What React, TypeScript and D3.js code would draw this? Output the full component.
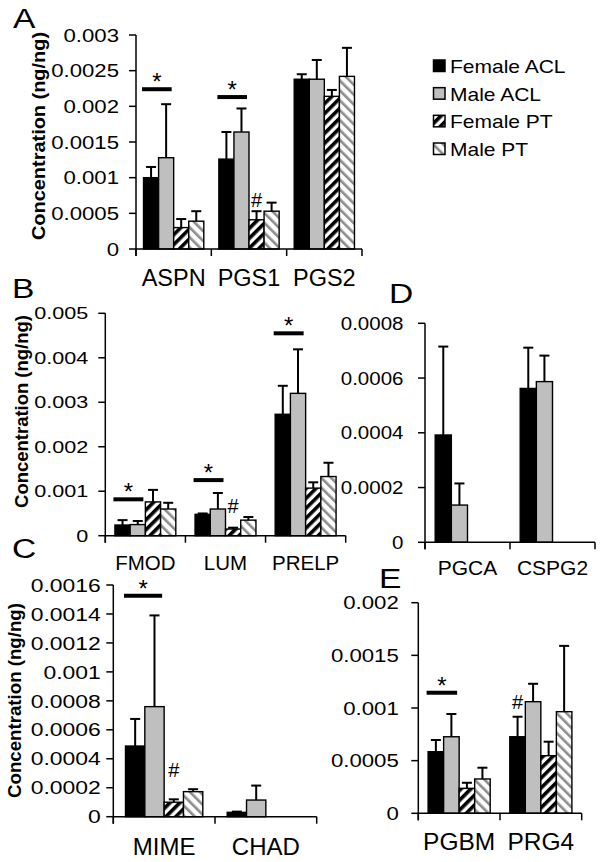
import React from "react";
import * as d3 from "d3";

const SERIES = ["Female ACL", "Male ACL", "Female PT", "Male PT"];

// Panel A
const CATS_A = ["ASPN", "PGS1", "PGS2"];
const MEAN_A = [
  [0.001, 0.00126, 0.00238],
  [0.00128, 0.00164, 0.00238],
  [0.0003, 0.00041, 0.00214],
  [0.00039, 0.00053, 0.00242],
];
const SD_A = [
  [0.00015, 0.00038, 0.00007],
  [0.00075, 0.00033, 0.00027],
  [0.00012, 0.00012, 0.00009],
  [0.00014, 0.00012, 0.0004],
];
const TICKS_A = [0, 0.0005, 0.001, 0.0015, 0.002, 0.0025, 0.003];

// Panel B
const CATS_B = ["FMOD", "LUM", "PRELP"];
const MEAN_B = [
  [0.00024, 0.00048, 0.00273],
  [0.00025, 0.0006, 0.0032],
  [0.00076, 0.00015, 0.00107],
  [0.0006, 0.00035, 0.00133],
];
const SD_B = [
  [0.00011, 0.00002, 0.00064],
  [0.00008, 0.00036, 0.00099],
  [0.00027, 0.00003, 0.00013],
  [0.00014, 0.00007, 0.00031],
];
const TICKS_B = [0, 0.001, 0.002, 0.003, 0.004, 0.005];

// Panel C
const CATS_C = ["MIME", "CHAD"];
const MEAN_C = [
  [0.000488, 0.00003],
  [0.00076, 0.000115],
  [0.0001, null],
  [0.000173, null],
];
const SD_C = [
  [0.000187, 0.000005],
  [0.00063, 0.0001],
  [0.00002, null],
  [0.000017, null],
];
const TICKS_C = [0, 0.0002, 0.0004, 0.0006, 0.0008, 0.001, 0.0012, 0.0014, 0.0016];

// Panel D
const CATS_D = ["PGCA", "CSPG2"];
const MEAN_D = [
  [0.000392, 0.000562],
  [0.000136, 0.000587],
  [null, null],
  [null, null],
];
const SD_D = [
  [0.000323, 0.000149],
  [0.000079, 0.000095],
  [null, null],
  [null, null],
];
const TICKS_D = [0, 0.0002, 0.0004, 0.0006, 0.0008];

// Panel E
const CATS_E = ["PGBM", "PRG4"];
const MEAN_E = [
  [0.000585, 0.000727],
  [0.000727, 0.00106],
  [0.000237, 0.000547],
  [0.000326, 0.000965],
];
const SD_E = [
  [0.000111, 0.00019],
  [0.000216, 0.00017],
  [0.000053, 0.000133],
  [0.000107, 0.000625],
];
const TICKS_E = [0, 0.0005, 0.001, 0.0015, 0.002];

// Significance annotations (category index, level in data units)
const STARS_A = [{ cat: 0, level: 0.00224 }, { cat: 1, level: 0.00213 }];
const HASH_A = [{ cat: 1, series: 2, level: 0.000590 }];
const STARS_B = [{ cat: 0, level: 0.000818 }, { cat: 1, level: 0.00125 }, { cat: 2, level: 0.00455 }];
const HASH_B = [{ cat: 1, series: 2, level: 0.0005 }];
const STARS_C = [{ cat: 0, level: 0.001526 }];
const HASH_C = [{ cat: 0, series: 2, level: 0.000275 }];
const STARS_D: { cat: number; level: number }[] = [];
const HASH_D: { cat: number; series: number; level: number }[] = [];
const STARS_E = [{ cat: 0, level: 0.001145 }];
const HASH_E = [{ cat: 1, series: 0, level: 0.000995 }];

const FONT = "'Liberation Sans', Arial, Helvetica, sans-serif";
const FILLS = ["#000000", "#bfbfbf", "url(#hatchF)", "url(#hatchM)"];

type PanelProps = {
  cats: string[];
  mean: (number | null)[][];
  sd: (number | null)[][];
  ticks: number[];
  stars: { cat: number; level: number }[];
  hashes: { cat: number; series: number; level: number }[];
  x0: number;
  x1: number;
  yTop: number;
  yBot: number;
  barFrac: number;
  tickFont: number;
  tickSx: number;
  tickGap: number;
  catFont: number;
  catY: number;
  title?: { x: number; y: number; size: number; sx: number };
  letter: { t: string; x: number; y: number };
};

function Panel(p: PanelProps) {
  const yMax = p.ticks[p.ticks.length - 1];
  const y = d3.scaleLinear().domain([0, yMax]).range([p.yBot, p.yTop]);
  const x = d3.scaleBand<string>().domain(p.cats).range([p.x0, p.x1]).padding(0);
  const bw = x.bandwidth();
  const off = ((1 - 4 * p.barFrac) / 2) * bw;
  const xs = d3
    .scaleBand<number>()
    .domain([0, 1, 2, 3])
    .range([off, bw - off])
    .padding(0);
  const w = xs.bandwidth();
  const boundaries = p.cats.map((c) => x(c)!).concat([p.x1]);

  return (
    <g fontFamily={FONT}>
      <g transform={`translate(${p.letter.x},${p.letter.y}) scale(1.2,1)`}>
        <text fontSize={28}>{p.letter.t}</text>
      </g>
      {p.title && (
        <g transform={`translate(${p.title.x},${p.title.y}) rotate(-90) scale(${p.title.sx},1)`}>
          <text fontSize={p.title.size} fontWeight="bold" textAnchor="middle">
            Concentration (ng/ng)
          </text>
        </g>
      )}
      {p.ticks.map((t) => (
        <g key={t}>
          <line x1={p.x0 - 7} x2={p.x0} y1={y(t)} y2={y(t)} stroke="#000" strokeWidth={1.5} />
          <g transform={`translate(${p.x0 - p.tickGap},${y(t)}) scale(${p.tickSx},1)`}>
            <text fontSize={p.tickFont} textAnchor="end" dy="0.36em">
              {String(t)}
            </text>
          </g>
        </g>
      ))}
      {p.cats.map((c, ci) =>
        SERIES.map((s, si) => {
          const v = p.mean[si][ci];
          if (v == null) return null;
          const bx = x(c)! + xs(si)!;
          return (
            <rect
              key={c + s}
              x={bx}
              y={y(v)}
              width={w}
              height={p.yBot - y(v)}
              fill={FILLS[si]}
              stroke="#000"
              strokeWidth={1.4}
            />
          );
        })
      )}
      {p.cats.map((c, ci) =>
        SERIES.map((s, si) => {
          const v = p.mean[si][ci];
          const e = p.sd[si][ci];
          if (v == null || e == null) return null;
          const cx = x(c)! + xs(si)! + w / 2;
          return (
            <g key={"e" + c + s} stroke="#000" strokeWidth={2}>
              <line x1={cx} x2={cx} y1={y(v)} y2={y(v + e)} />
              <line x1={cx - 5} x2={cx + 5} y1={y(v + e)} y2={y(v + e)} />
            </g>
          );
        })
      )}
      <line x1={p.x0} x2={p.x0} y1={p.yTop} y2={p.yBot + 7} stroke="#000" strokeWidth={1.5} />
      <line x1={p.x0} x2={p.x1} y1={p.yBot} y2={p.yBot} stroke="#000" strokeWidth={1.5} />
      {boundaries.map((bx, i) => (
        <line key={i} x1={bx} x2={bx} y1={p.yBot} y2={p.yBot + 7} stroke="#000" strokeWidth={1.5} />
      ))}
      {p.cats.map((c) => (
        <text key={"l" + c} x={x(c)! + bw / 2} y={p.catY} fontSize={p.catFont} textAnchor="middle">
          {c}
        </text>
      ))}
      {p.stars.map((s, i) => {
        const c = p.cats[s.cat];
        const xa = x(c)! + xs(0)! - 1.5;
        const xb = x(c)! + xs(1)! + w - 2;
        const yy = y(s.level);
        return (
          <g key={"s" + i}>
            <line x1={xa} x2={xb} y1={yy} y2={yy} stroke="#000" strokeWidth={4} />
            <text x={(xa + xb) / 2} y={yy + 1} fontSize={24} textAnchor="middle">
              *
            </text>
          </g>
        );
      })}
      {p.hashes.map((h, i) => {
        const c = p.cats[h.cat];
        const cx = x(c)! + xs(h.series)! + w / 2;
        return (
          <text key={"h" + i} x={cx} y={y(h.level)} fontSize={20} textAnchor="middle">
            #
          </text>
        );
      })}
    </g>
  );
}

function Legend() {
  const rows = d3.scaleLinear().domain([0, 3]).range([60, 143]);
  return (
    <g fontFamily={FONT}>
      {SERIES.map((s, i) => (
        <g key={s}>
          <rect x={433.5} y={rows(i)} width={11.5} height={11.5} fill={FILLS[i]} stroke="#000" strokeWidth={1.5} />
          <g transform={`translate(450,${rows(i) + 13}) scale(1.2,1)`}>
            <text fontSize={17.5}>{s}</text>
          </g>
        </g>
      ))}
    </g>
  );
}

export default function App() {
  return (
    <svg
      width={602}
      height={862}
      style={{ position: "absolute", left: 0, top: 0, background: "#fff" }}
    >
      <defs>
        <pattern id="hatchF" patternUnits="userSpaceOnUse" width={7} height={7} patternTransform="rotate(45)">
          <rect width={7} height={7} fill="#fff" />
          <rect width={3.6} height={7} fill="#000" />
        </pattern>
        <pattern id="hatchM" patternUnits="userSpaceOnUse" width={7} height={7} patternTransform="rotate(-45)">
          <rect width={7} height={7} fill="#fff" />
          <rect width={2.6} height={7} fill="#8c8c8c" />
        </pattern>
      </defs>
      <rect width={602} height={862} fill="#fff" />
      <Panel
        cats={CATS_A}
        mean={MEAN_A}
        sd={SD_A}
        ticks={TICKS_A}
        stars={STARS_A}
        hashes={HASH_A}
        x0={136}
        x1={362}
        yTop={35}
        yBot={249}
        barFrac={0.2}
        tickFont={18.5}
        tickSx={1.2}
        tickGap={17}
        catFont={23.5}
        catY={286}
        title={{ x: 45, y: 136, size: 17.5, sx: 1.14 }}
        letter={{ t: "A", x: 13, y: 28 }}
      />
      <Panel
        cats={CATS_B}
        mean={MEAN_B}
        sd={SD_B}
        ticks={TICKS_B}
        stars={STARS_B}
        hashes={HASH_B}
        x0={105.3}
        x1={345.7}
        yTop={313.3}
        yBot={535.7}
        barFrac={0.19}
        tickFont={17}
        tickSx={1.27}
        tickGap={17}
        catFont={20.5}
        catY={570}
        title={{ x: 28.3, y: 411.5, size: 17.5, sx: 1.056 }}
        letter={{ t: "B", x: 12, y: 298 }}
      />
      <Panel
        cats={CATS_C}
        mean={MEAN_C}
        sd={SD_C}
        ticks={TICKS_C}
        stars={STARS_C}
        hashes={HASH_C}
        x0={113.3}
        x1={316.7}
        yTop={585}
        yBot={816.7}
        barFrac={0.19}
        tickFont={18.5}
        tickSx={1.24}
        tickGap={12.5}
        catFont={24}
        catY={855}
        title={{ x: 20.7, y: 700.5, size: 17.5, sx: 1.067 }}
        letter={{ t: "C", x: 12, y: 558 }}
      />
      <Panel
        cats={CATS_D}
        mean={MEAN_D}
        sd={SD_D}
        ticks={TICKS_D}
        stars={STARS_D}
        hashes={HASH_D}
        x0={425}
        x1={595}
        yTop={323.3}
        yBot={542.3}
        barFrac={0.19}
        tickFont={18}
        tickSx={1.14}
        tickGap={21.5}
        catFont={21}
        catY={575}
        letter={{ t: "D", x: 389, y: 303 }}
      />
      <Panel
        cats={CATS_E}
        mean={MEAN_E}
        sd={SD_E}
        ticks={TICKS_E}
        stars={STARS_E}
        hashes={HASH_E}
        x0={418.3}
        x1={581.7}
        yTop={602.7}
        yBot={813.3}
        barFrac={0.19}
        tickFont={18.5}
        tickSx={1.2}
        tickGap={19.5}
        catFont={24.5}
        catY={850}
        letter={{ t: "E", x: 379, y: 588 }}
      />
      <Legend />
    </svg>
  );
}
